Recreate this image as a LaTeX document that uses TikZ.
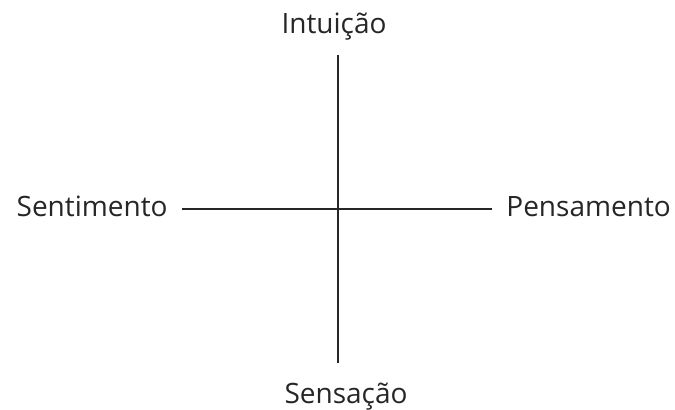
\documentclass[tikz,border=0pt]{standalone}
\usepackage{fontspec}
\setmainfont{Open Sans}
\usepackage{tikz}
\usetikzlibrary{positioning}
\tikzset{eixo/.style={line width=1pt,black!85},rotulo/.style={font=\fontsize{14}{16}\selectfont,text=black!85,inner sep=0pt}}

\begin{document}
\begin{tikzpicture}[x=0.5pt,y=-0.5pt]
\useasboundingbox (0,0) rectangle (675,409);
\coordinate (topo) at (338,55);
\coordinate (base) at (338,363);
\coordinate (esq) at (182,209);
\coordinate (dir) at (492,209);
\draw[eixo] (topo) -- (base);
\draw[eixo] (esq) -- (dir);
\node[rotulo,anchor=base] (intuicao) at (334,33) {Intuição};
\node[rotulo,anchor=base] (sensacao) at (346,403) {Sensação};
\node[rotulo,anchor=base east] (sentimento) at (168,216) {Sentimento};
\node[rotulo,anchor=base west] (pensamento) at (506,216) {Pensamento};
\end{tikzpicture}
\end{document}
